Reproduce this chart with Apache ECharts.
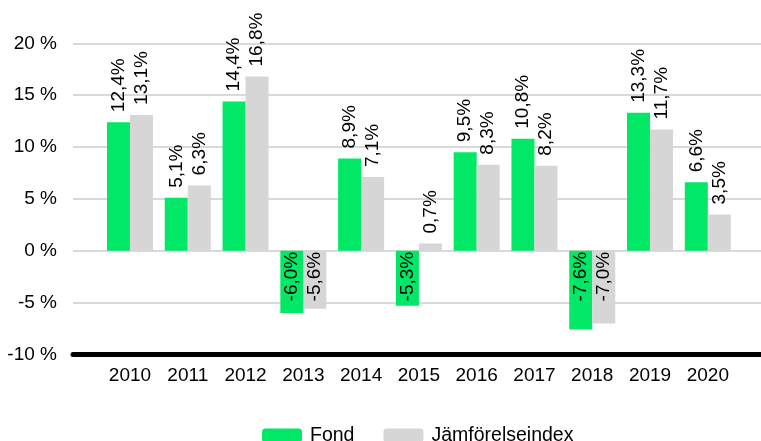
<!DOCTYPE html>
<html>
<head>
<meta charset="utf-8">
<script src="https://cdn.jsdelivr.net/npm/echarts@6/dist/echarts.min.js"></script>
<style>html,body{margin:0;padding:0;background:#fff}#c{width:761px;height:441px}</style>
</head>
<body>
<div id="c"></div>
<script>
var categories = ['2010','2011','2012','2013','2014','2015','2016','2017','2018','2019','2020'];
var fondValues = [12.4, 5.1, 14.4, -6.0, 8.9, -5.3, 9.5, 10.8, -7.6, 13.3, 6.6];
var indexValues = [13.1, 6.3, 16.8, -5.6, 7.1, 0.7, 8.3, 8.2, -7.0, 11.7, 3.5];
var seriesNames = ['Fond', 'Jämförelseindex'];
var yMin = -10, yMax = 20, yStep = 5;

var FONT = "'Liberation Sans', Arial, sans-serif";
var FS = 19;
function fmt(v){ return v.toFixed(1).replace('.', ',') + '%'; }
var posLabel = {show:true, position:'top', rotate:90, align:'left', verticalAlign:'middle', distance:10};
var negLabel = {show:true, position:'insideTop', rotate:90, align:'right', verticalAlign:'middle', distance:1};
function toData(arr){
  return arr.map(function(v){ return {value:v, label: v < 0 ? negLabel : posLabel}; });
}
var gTop = 43.3, gBottom = 86.5;
var chart = echarts.init(document.getElementById('c'), null, {renderer:'canvas'});
chart.setOption({
  animation:false,
  textStyle:{fontFamily:FONT},
  grid:[
    {left:73, right:0, top:gTop, bottom:gBottom},
    {left:101.1, right:24.3, top:gTop, bottom:gBottom}
  ],
  xAxis:[
    {type:'category', gridIndex:0, data:[''], axisLine:{onZero:false, lineStyle:{color:'#000', width:5}}, axisTick:{show:false}, axisLabel:{show:false}, z:5},
    {type:'category', gridIndex:1, data:categories, axisLine:{show:false}, axisTick:{show:false},
     axisLabel:{fontSize:FS, color:'#000', margin:12, fontFamily:FONT}}
  ],
  yAxis:[
    {type:'value', gridIndex:0, min:yMin, max:yMax, interval:yStep, axisLine:{show:false}, axisTick:{show:false},
     splitLine:{lineStyle:{color:'#d9d9d9', width:2}},
     axisLabel:{formatter:'{value} %', fontSize:FS, color:'#000', margin:16, fontFamily:FONT}},
    {type:'value', gridIndex:1, min:yMin, max:yMax, interval:yStep, show:false, splitLine:{show:false}}
  ],
  legend:{
    data:seriesNames, left:262, top:425.5, padding:0, itemWidth:40, itemHeight:14, itemGap:29,
    textStyle:{fontSize:19.5, color:'#000', fontFamily:FONT, padding:[0,0,12,3]}
  },
  series:[
    {name:seriesNames[0], type:'bar', xAxisIndex:1, yAxisIndex:1, data:toData(fondValues), barWidth:23, barGap:'0%',
     itemStyle:{color:'#00e865'}, label:{fontSize:FS, color:'#000', fontFamily:FONT, formatter:function(p){return fmt(p.value);}}},
    {name:seriesNames[1], type:'bar', xAxisIndex:1, yAxisIndex:1, data:toData(indexValues), barWidth:23, barGap:'0%',
     itemStyle:{color:'#d6d6d6'}, label:{fontSize:FS, color:'#000', fontFamily:FONT, formatter:function(p){return fmt(p.value);}}}
  ]
});
</script>
</body>
</html>
